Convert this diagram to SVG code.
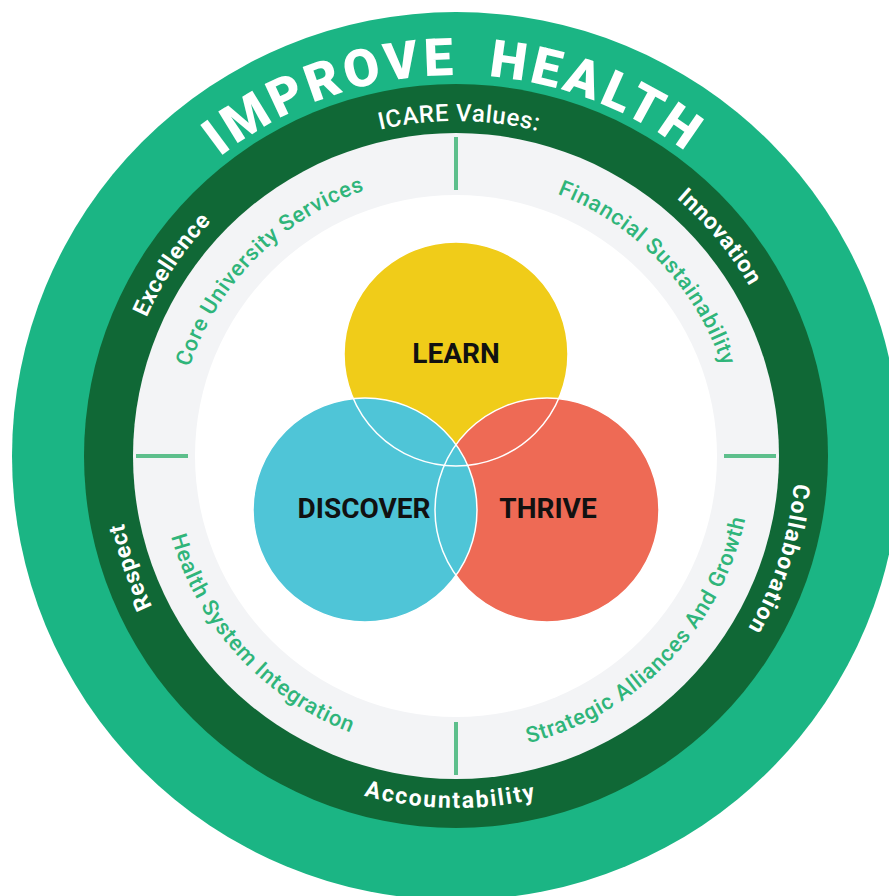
<svg xmlns="http://www.w3.org/2000/svg" width="889" height="896" viewBox="0 0 889 896">
  <defs>
    <style>
      .value { font-family: Roboto, "Liberation Sans", sans-serif; font-weight: 700; font-size: 23px; fill: #ffffff; letter-spacing: 0.6px; }
      .prio { font-family: Roboto, "Liberation Sans", sans-serif; font-weight: 500; font-size: 22px; fill: #2fb57a; letter-spacing: 0.8px; }
      .venn { font-family: Roboto, "Liberation Sans", sans-serif; font-weight: 700; font-size: 28px; fill: #111111; text-anchor: middle; }
      .title { font-family: Roboto, "Liberation Sans", sans-serif; font-weight: 900; font-size: 52px; fill: #ffffff; letter-spacing: 4px; word-spacing: 14px; }
      .divider { stroke: #5dbf8c; stroke-width: 4; }
      .outline { fill: none; stroke: #ffffff; stroke-width: 1.5; }
    </style>
    <!-- clockwise paths starting at bottom -->
    <path id="cw381" d="M456,837 A381,381 0 1,1 456,75 A381,381 0 1,1 456,837"/>
    <path id="cw335" d="M456,791 A335,335 0 1,1 456,121 A335,335 0 1,1 456,791"/>
    <path id="cw339" d="M456,795 A339,339 0 1,1 456,117 A339,339 0 1,1 456,795"/>
    <path id="cw281" d="M456,737 A281,281 0 1,1 456,175 A281,281 0 1,1 456,737"/>
    <!-- counter-clockwise paths starting at top -->
    <path id="ccw352" d="M456,104 A352,352 0 1,0 456,808 A352,352 0 1,0 456,104"/>
    <path id="ccw296" d="M456,160 A296,296 0 1,0 456,752 A296,296 0 1,0 456,160"/>
  </defs>

  <g id="rings">
    <circle cx="456" cy="456" r="444" fill="#1bb584"/>
    <circle cx="456" cy="456" r="372" fill="#106836"/>
    <circle cx="456" cy="456" r="323" fill="#f3f4f6"/>
    <circle cx="456" cy="456" r="261" fill="#ffffff"/>
  </g>

  <g id="dividers">
    <line class="divider" x1="456" y1="137" x2="456" y2="190"/>
    <line class="divider" x1="456" y1="722" x2="456" y2="775"/>
    <line class="divider" x1="136" y1="456" x2="188" y2="456"/>
    <line class="divider" x1="724" y1="456" x2="776" y2="456"/>
  </g>

  <g id="title">
    <text class="title" text-anchor="middle"><textPath href="#cw381" startOffset="49.9%">IMPROVE HEALTH</textPath></text>
  </g>

  <g id="values">
    <text class="value" text-anchor="middle" style="font-size:24px;font-weight:500"><textPath href="#cw335" startOffset="50.15%">ICARE Values:</textPath></text>
    <text class="value" text-anchor="middle"><textPath href="#cw339" startOffset="34.44%">Excellence</textPath></text>
    <text class="value" text-anchor="middle"><textPath href="#cw339" startOffset="63.97%">Innovation</textPath></text>
    <text class="value" text-anchor="middle"><textPath href="#cw339" startOffset="19.75%">Respect</textPath></text>
    <text class="value" text-anchor="middle" style="letter-spacing:1.2px"><textPath href="#cw339" startOffset="79.92%">Collaboration</textPath></text>
    <text class="value" text-anchor="middle" style="letter-spacing:1.9px"><textPath href="#ccw352" startOffset="49.75%">Accountability</textPath></text>
  </g>

  <g id="priorities">
    <text class="prio" text-anchor="middle"><textPath href="#cw281" startOffset="37.44%">Core University Services</textPath></text>
    <text class="prio" text-anchor="middle"><textPath href="#cw281" startOffset="62.86%">Financial Sustainability</textPath></text>
    <text class="prio" text-anchor="middle"><textPath href="#ccw296" startOffset="36.81%">Health System Integration</textPath></text>
    <text class="prio" text-anchor="middle"><textPath href="#ccw296" startOffset="62.78%">Strategic Alliances And Growth</textPath></text>
  </g>

  <g id="learn">
    <circle cx="456" cy="354" r="112" fill="#f0cc19"/>
  </g>
  <g id="thrive">
    <circle cx="547" cy="510" r="112" fill="#ee6a55"/>
  </g>
  <g id="discover">
    <circle cx="365" cy="510" r="112" fill="#4fc5d7"/>
  </g>
  <g id="venn-outlines">
    <circle class="outline" cx="456" cy="354" r="112"/>
    <circle class="outline" cx="547" cy="510" r="112"/>
    <circle class="outline" cx="365" cy="510" r="112"/>
  </g>
  <g id="venn-labels">
    <text class="venn" x="456" y="363">LEARN</text>
    <text class="venn" x="364" y="518">DISCOVER</text>
    <text class="venn" x="548" y="518">THRIVE</text>
  </g>
</svg>
